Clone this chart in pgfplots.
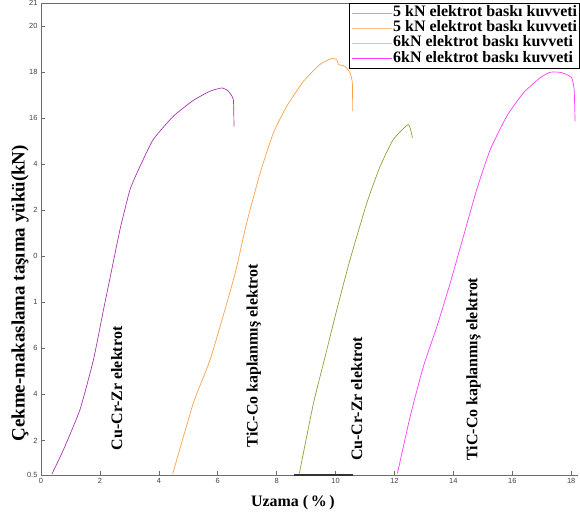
\documentclass[border=0pt]{standalone}
\usepackage{fontspec}
\setmainfont{Liberation Serif}
\newfontfamily\arial{Liberation Sans}
\usepackage{pgfplots}
\pgfplotsset{compat=1.18}
\definecolor{cpur}{RGB}{165,55,175}
\definecolor{cora}{RGB}{255,160,70}
\definecolor{coli}{RGB}{155,155,55}
\definecolor{cmag}{RGB}{255,60,255}
\definecolor{legpur}{RGB}{205,155,215}
\definecolor{legora}{RGB}{255,190,140}
\definecolor{legoli}{RGB}{190,220,140}
\begin{document}
\begin{tikzpicture}
\useasboundingbox (-41bp,-38bp) rectangle (539bp,475bp);
\begin{axis}[
  scale only axis, width=537bp, height=472bp,
  xmin=0, xmax=18.23, ymin=0.5, ymax=21,
  clip=false,
  axis x line*=bottom, axis y line*=left,
  axis line style={gray!85!black, line width=0.8pt, -},
  xtick={0,2,...,18},
  ytick={0.5,2,4,6,8,10,12,14,16,18,20,21},
  yticklabels={0.5,2,4,6,1,0,2,4,16,18,20,21},
  tick align=inside, major tick length=4bp,
  tick style={gray!85!black, line width=0.6pt},
  ticklabel style={font=\arial\fontsize{7.5}{8}\selectfont, text=black!75},
  /pgf/number format/assume math mode=true,
  xlabel={Uzama (\,\%\,)},
  xlabel style={at={(rel axis cs:0.469,-0.059)}, anchor=center, font=\bfseries\fontsize{16}{18}\selectfont},
  ylabel={Çekme-makaslama taşıma yükü(kN)},
  ylabel style={at={(rel axis cs:-0.039,0.385)}, anchor=center, font=\bfseries\fontsize{19}{20}\selectfont},
  legend style={at={(rel axis cs:1.004,1)}, anchor=north east, draw=black, line width=0.8pt,
    font=\bfseries\fontsize{16}{14}\selectfont, inner xsep=2pt, inner ysep=2pt,
    row sep=0pt, nodes={inner sep=0.6pt, text height=10.5bp, text depth=3.5bp}},
  legend cell align=left,
]
\addplot[cpur, line width=0.7pt, smooth, tension=0.3,
  legend image code/.code={\draw[legpur, line width=0.9pt] (0,0) -- (40bp,0);}] coordinates {
(0.37,0.54)(0.76,1.59)(1.32,3.33)(1.78,5.5)(2.12,7.67)(2.40,9.41)(2.68,11.15)(3.02,12.89)(3.36,13.9)(3.81,15.07)(4.49,16.08)(5.17,16.77)(5.74,17.17)(6.14,17.31)(6.36,17.17)(6.53,16.8)(6.55,15.64)};
\addlegendentry{5 kN elektrot baskı kuvveti}
\addplot[cora, line width=0.7pt, smooth, tension=0.3,
  legend image code/.code={\draw[legora, line width=0.9pt] (0,0) -- (40bp,0);}] coordinates {
(4.47,0.54)(5.17,3.62)(5.74,5.5)(6.31,7.97)(6.62,9.41)(6.98,11.44)(7.44,13.62)(7.89,15.36)(8.34,16.51)(8.91,17.6)(9.47,18.33)(9.87,18.59)(10.04,18.54)(10.10,18.33)(10.32,18.25)(10.49,17.97)(10.57,17.53)(10.58,16.3)};
\addlegendentry{5 kN elektrot baskı kuvveti}
\addplot[coli, line width=0.7pt, smooth, tension=0.3,
  legend image code/.code={\draw[legoli, line width=0.9pt] (0,0) -- (40bp,0);}] coordinates {
(8.77,0.57)(9.25,3.62)(9.59,5.36)(10.04,7.67)(10.49,9.85)(11.06,12.31)(11.51,13.9)(11.96,15.07)(12.47,15.72)(12.61,15.14)};
\addlegendentry{6kN elektrot baskı kuvveti}
\addplot[cmag, line width=0.7pt, smooth, tension=0.3,
  legend image code/.code={\draw[cmag, line width=0.9pt] (0,0) -- (40bp,0);}] coordinates {
(12.10,0.57)(12.53,3.03)(12.98,5.21)(13.44,6.95)(13.89,8.83)(14.34,10.86)(14.79,12.89)(15.25,14.63)(15.81,16.08)(16.38,17.1)(16.94,17.75)(17.28,17.99)(17.62,17.99)(17.85,17.89)(18.02,17.75)(18.10,17.24)(18.13,15.86)};
\addlegendentry{6kN elektrot baskı kuvveti}
\addplot[black!80, line width=1.4pt, forget plot] coordinates {(8.6,0.5)(10.6,0.5)};
\draw[gray!85!black, line width=0.8pt] (rel axis cs:0,1) -- (rel axis cs:1,1);
\node[rotate=90, font=\bfseries\fontsize{16}{18}\selectfont] at (axis cs:2.57,4.26) {Cu-Cr-Zr elektrot};
\node[rotate=90, font=\bfseries\fontsize{16}{18}\selectfont] at (axis cs:7.22,5.67) {TiC-Co kaplanmış elektrot};
\node[rotate=90, font=\bfseries\fontsize{16}{18}\selectfont] at (axis cs:10.72,3.8) {Cu-Cr-Zr elektrot};
\node[rotate=90, font=\bfseries\fontsize{16}{18}\selectfont] at (axis cs:14.68,5.1) {TiC-Co kaplanmış elektrot};
\end{axis}
\end{tikzpicture}
\end{document}
